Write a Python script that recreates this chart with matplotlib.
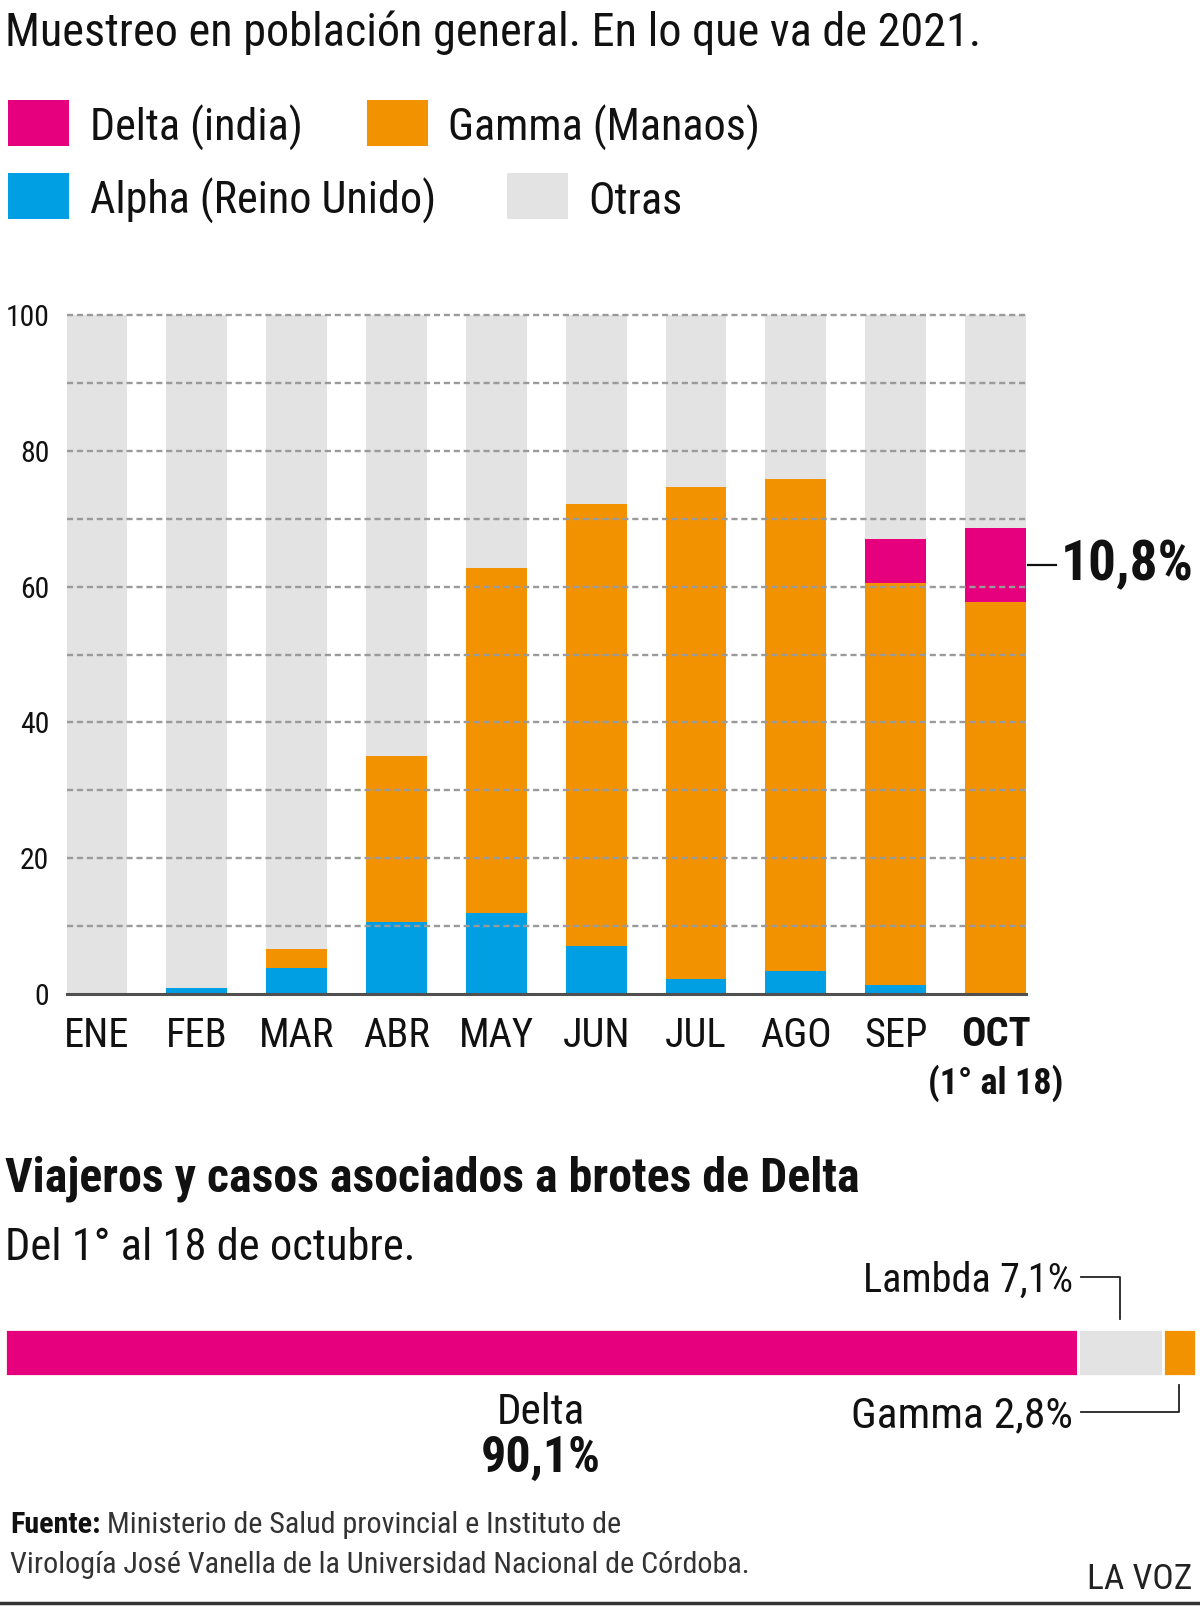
import matplotlib
matplotlib.use('Agg')
import matplotlib.pyplot as plt
from matplotlib import font_manager as fm
from matplotlib.lines import Line2D
from matplotlib.patches import Rectangle
from matplotlib.ticker import FixedLocator
from matplotlib.transforms import blended_transform_factory

# ---------------- data ----------------
months = ['ENE', 'FEB', 'MAR', 'ABR', 'MAY', 'JUN', 'JUL', 'AGO', 'SEP', 'OCT']
oct_note = '(1° al 18)'
alpha = [0, 0.9, 3.9, 10.6, 12.0, 7.1, 2.2, 3.4, 1.3, 0]
gamma = [0, 0, 2.7, 24.4, 50.8, 65.0, 72.4, 72.4, 59.2, 57.8]
delta = [0, 0, 0, 0, 0, 0, 0, 0, 6.5, 10.8]
otras = [100 - a - g - d for a, g, d in zip(alpha, gamma, delta)]
yticks = [0, 20, 40, 60, 80, 100]
yminor = [10, 30, 50, 70, 90]
oct_delta_label = '10,8%'

series_names = ['Delta (india)', 'Gamma (Manaos)', 'Alpha (Reino Unido)', 'Otras']

brote_names = ['Delta', 'Lambda', 'Gamma']
brote_values = [90.1, 7.1, 2.8]
brote_labels = ['90,1%', '7,1%', '2,8%']

C_DELTA = '#E6007E'
C_GAMMA = '#F39200'
C_ALPHA = '#009FE3'
C_OTRAS = '#E3E3E3'

# ---------------- fonts ----------------
def pick_font():
    entries = fm.fontManager.ttflist
    names = {e.name for e in entries}
    for cand in ['Roboto Condensed', 'Open Sans Condensed', 'Noto Sans Condensed',
                 'Liberation Sans Narrow', 'DejaVu Sans Condensed']:
        if cand in names:
            return cand, 'normal'
    cond = ('condensed', 'semi-condensed', 'extra-condensed', 'ultra-condensed')
    for fam in ['Roboto', 'Noto Sans', 'Open Sans', 'DejaVu Sans']:
        if any(e.name == fam and str(e.stretch) in cond for e in entries):
            return fam, 'condensed'
    return 'Roboto', 'normal'

FAM, STRETCH = pick_font()
FAMS = [FAM, 'DejaVu Sans']

W, H = 1200, 1607
fig = plt.figure(figsize=(W / 100, H / 100), dpi=100)
fig.patch.set_facecolor('white')
renderer = fig.canvas.get_renderer()


def fx(px):
    return px / W


def fy(py):
    return 1 - py / H


def size_for(s, width, weight='normal'):
    t = fig.text(0, 0, s, fontsize=20, family=FAMS, fontstretch=STRETCH, fontweight=weight)
    w = t.get_window_extent(renderer).width
    t.remove()
    return 20 * width / w


def fit(x, y, s, width, ha='left', va='baseline', weight='normal', color='#111111'):
    size = size_for(s, width, weight)
    return fig.text(fx(x), fy(y), s, ha=ha, va=va, fontsize=size, family=FAMS,
                    fontstretch=STRETCH, fontweight=weight, color=color)


# ---------------- title & legend ----------------
fit(5, 46, 'Muestreo en población general. En lo que va de 2021.', 974)

leg_colors = [C_DELTA, C_GAMMA, C_ALPHA, C_OTRAS]
leg_box_x = [8, 367, 8, 507]
leg_box_y = [99.5, 99.5, 173, 173]
leg_txt_x = [90, 448, 90, 588]
leg_base = [141, 141, 214, 214]
leg_size = size_for('Alpha (Reino Unido)', 345)
for name, c, bx, by, tx, tb in zip(series_names, leg_colors, leg_box_x, leg_box_y, leg_txt_x, leg_base):
    fig.add_artist(Rectangle((fx(bx), fy(by + 46)), 61 / W, 46 / H, transform=fig.transFigure,
                             facecolor=c, edgecolor='none'))
    fig.text(fx(tx), fy(tb), name, fontsize=leg_size, family=FAMS, fontstretch=STRETCH,
             color='#111111', va='baseline')

# ---------------- stacked bar chart ----------------
px_per_unit = 6.79
ytop = 100.5
ax_left, ax_right, ax_bottom = 66.6, 1026.0, 994.0
ax_h = ytop * px_per_unit
ax = fig.add_axes([fx(ax_left), fy(ax_bottom), (ax_right - ax_left) / W, ax_h / H])
x = list(range(len(months)))
bw = 0.61
b1 = alpha
b2 = [a + g for a, g in zip(alpha, gamma)]
b3 = [a + g + d for a, g, d in zip(alpha, gamma, delta)]
ax.bar(x, alpha, bw, color=C_ALPHA, linewidth=0, zorder=1)
ax.bar(x, gamma, bw, bottom=b1, color=C_GAMMA, linewidth=0, zorder=1)
ax.bar(x, delta, bw, bottom=b2, color=C_DELTA, linewidth=0, zorder=1)
ax.bar(x, otras, bw, bottom=b3, color=C_OTRAS, linewidth=0, zorder=1)
ax.set_xlim(-bw / 2, len(months) - 1 + bw / 2)
ax.set_ylim(0, ytop)

ax.set_yticks(yticks)
ax.yaxis.set_minor_locator(FixedLocator(yminor))
ax.grid(axis='y', which='both', linestyle=(0, (2.6, 1.6)), color='#9a9a9a', linewidth=1.7)
ax.set_axisbelow(False)
ax.yaxis.get_major_ticks()[0].gridline.set_visible(False)
for s in ['top', 'right', 'left']:
    ax.spines[s].set_visible(False)
ax.spines['bottom'].set_color('#505050')
ax.spines['bottom'].set_linewidth(2.2)
ax.spines['bottom'].set_zorder(5)

ytick_size = size_for('100', 44)
ax.set_yticklabels([str(v) for v in yticks], fontsize=ytick_size, family=FAMS,
                   fontstretch=STRETCH, color='#111111')
ax.tick_params(axis='y', which='both', length=0, pad=12.5)

xtick_size = size_for('MAY', 75)
ax.set_xticks(x)
ax.set_xticklabels(months, fontsize=xtick_size, family=FAMS, fontstretch=STRETCH,
                   color='#111111')
ax.get_xticklabels()[-1].set_fontweight('bold')
ax.tick_params(axis='x', length=0, pad=16)

# "(1° al 18)" note under OCT
note_size = size_for(oct_note, 136, 'bold')
ax.text(x[-1], fy(1094), oct_note, transform=blended_transform_factory(ax.transData, fig.transFigure),
        ha='center', va='baseline', fontsize=note_size, family=FAMS, fontstretch=STRETCH,
        fontweight='bold', color='#111111', clip_on=False)

# 10,8% callout
ymid = b2[-1] + delta[-1] / 2
tr = ax.get_yaxis_transform()
axw = ax_right - ax_left
ax.plot([1 + 2 / axw, 1 + 30 / axw], [ymid, ymid], color='#111111', lw=1.6,
        transform=tr, clip_on=False)
lbl_size = size_for(oct_delta_label, 133, 'bold')
ax.text(1 + 35 / axw, ymid, oct_delta_label, transform=tr, fontsize=lbl_size,
        family=FAMS, fontstretch=STRETCH, fontweight='bold', va='center', ha='left',
        color='#111111')

# ---------------- section 2 ----------------
fit(5, 1192, 'Viajeros y casos asociados a brotes de Delta', 854, weight='bold')
fit(5, 1260, 'Del 1° al 18 de octubre.', 409)

bar_left, bar_right, bar_top, bar_bot = 5.1, 1196.0, 1329.0, 1375.5
ax2 = fig.add_axes([fx(bar_left), fy(bar_bot), (bar_right - bar_left) / W, (bar_bot - bar_top) / H])
lefts = [sum(brote_values[:i]) for i in range(len(brote_values))]
ax2.barh([0] * 3, brote_values, left=lefts, height=1.0, color=[C_DELTA, C_OTRAS, C_GAMMA],
         edgecolor='white', linewidth=2.0)
ax2.set_xlim(0, sum(brote_values))
ax2.set_ylim(-0.5, 0.5)
ax2.axis('off')
fig.canvas.draw()


def data_px(xd):
    return ax2.transData.transform((xd, 0))[0]


line_kw = dict(color='#222222', lw=1.3, transform=fig.transFigure)
lam_mid = data_px(lefts[1] + brote_values[1] / 2)
gam_mid = data_px(lefts[2] + brote_values[2] / 2)
# Lambda label & connector
fit(1073, 1292, f'{brote_names[1]} {brote_labels[1]}', 210, ha='right')
fig.add_artist(Line2D([fx(1081), fx(lam_mid), fx(lam_mid)], [fy(1277), fy(1277), fy(1319)], **line_kw))
# Gamma label & connector
fit(1073, 1427, f'{brote_names[2]} {brote_labels[2]}', 222, ha='right')
fig.add_artist(Line2D([fx(1081), fx(gam_mid), fx(gam_mid)], [fy(1412), fy(1412), fy(1385)], **line_kw))
# Delta label
dcx = 541
fit(dcx, 1424, brote_names[0], 88, ha='center')
fit(dcx, 1472, brote_labels[0], 120, ha='center', weight='bold')

# ---------------- footer ----------------
src_size = size_for('Virología José Vanella de la Universidad Nacional de Córdoba.', 738)
t1 = fig.text(fx(10), fy(1533), 'Fuente:', fontsize=src_size, family=FAMS, fontstretch=STRETCH,
              fontweight='bold', color='#111111', va='baseline')
w1 = t1.get_window_extent(renderer).width
fig.text(fx(10 + w1 + src_size * 0.3), fy(1533), 'Ministerio de Salud provincial e Instituto de',
         fontsize=src_size, family=FAMS, fontstretch=STRETCH, color='#333333', va='baseline')
fig.text(fx(10), fy(1573), 'Virología José Vanella de la Universidad Nacional de Córdoba.',
         fontsize=src_size, family=FAMS, fontstretch=STRETCH, color='#333333', va='baseline')
fit(1192, 1589, 'LA VOZ', 105, ha='right', color='#222222')
fig.add_artist(Line2D([0, 1], [fy(1603), fy(1603)], color='#333333', lw=2.5, transform=fig.transFigure))

fig.savefig('out.png', dpi=100, facecolor='white')
